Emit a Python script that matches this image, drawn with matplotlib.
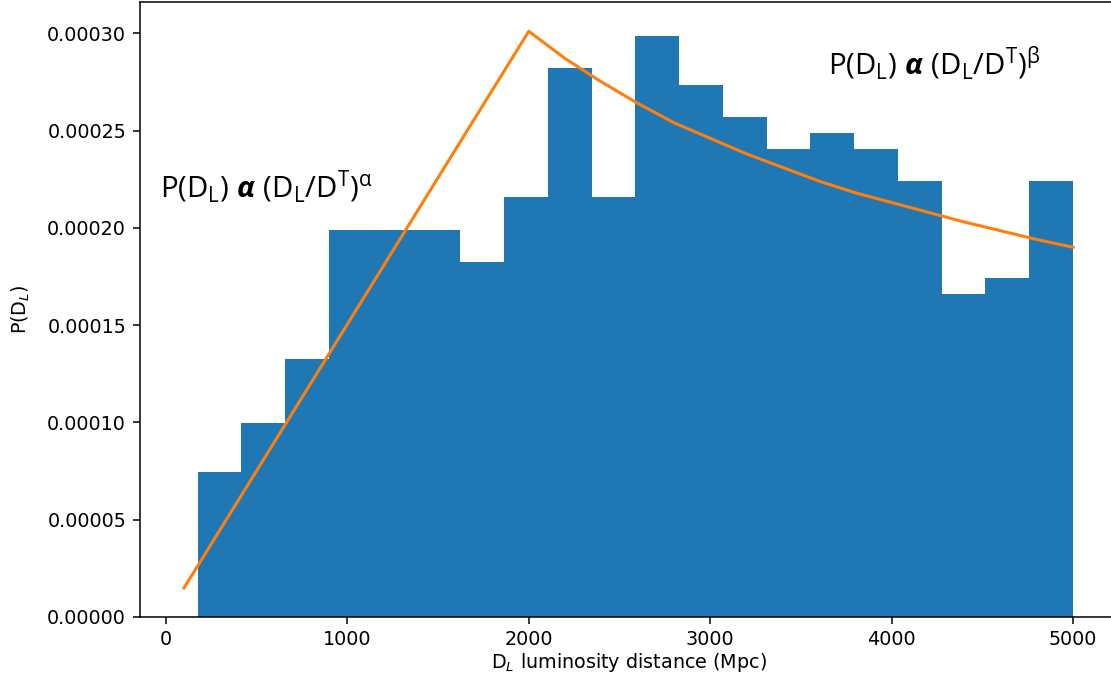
import numpy as np
import matplotlib
matplotlib.use("Agg")
import matplotlib.pyplot as plt

# histogram (density) values
bin_edges = [175, 416, 658, 899, 1140, 1381, 1622, 1864, 2105, 2346, 2588,
             2829, 3070, 3311, 3552, 3794, 4035, 4276, 4517, 4759, 5000]
densities = [0.0000746, 0.0000995, 0.0001327, 0.0001990, 0.0001990, 0.0001990,
             0.0001824, 0.0002156, 0.0002819, 0.0002156, 0.0002985, 0.0002736,
             0.0002570, 0.0002404, 0.0002487, 0.0002404, 0.0002238, 0.0001658,
             0.0001741, 0.0002238]

# broken power-law model curve
model_x = [100, 2000, 2200, 2400, 2600, 2800, 3000, 3200, 3400, 3600, 3800,
           4000, 4200, 4400, 4600, 4800, 5000]
model_y = [0.0000149, 0.000301, 0.000287, 0.000275, 0.000264, 0.000254,
           0.000246, 0.000238, 0.000231, 0.000224, 0.000218, 0.000213,
           0.000208, 0.000203, 0.0001985, 0.000194, 0.000190]

plt.rcParams['mathtext.fontset'] = 'dejavusans'
plt.rcParams['mathtext.rm'] = 'Open Sans'
plt.rcParams['mathtext.it'] = 'Open Sans:italic'
plt.rcParams['mathtext.bf'] = 'Open Sans:bold'
plt.rcParams['mathtext.bfit'] = 'Open Sans:bold:italic'

DPI = 138
fig = plt.figure(figsize=(1111 / DPI, 686 / DPI), dpi=DPI)
ax = fig.add_axes([0.1256, 0.1006, 0.8803, 0.8965])

edges = np.array(bin_edges)
ax.bar(edges[:-1], densities, width=np.diff(edges), align='edge',
       color='#1f77b4', linewidth=0)
ax.plot(model_x, model_y, color='#ff7f0e', linewidth=1.6)
ax.spines['right'].set_visible(False)

ax.set_xlabel('D$_L$ luminosity distance (Mpc)', labelpad=0.8)
ax.set_ylabel('P(D$_L$)', labelpad=8)

txt_a = r'$\mathrm{P(D_L)}\ \mathbfit{\alpha}\ \mathrm{(D_L/D^T)^{α}}$'
txt_b = r'$\mathrm{P(D_L)}\ \mathbfit{\alpha}\ \mathrm{(D_L/D^T)^{β}}$'
fig.text(160 / 1111, 1 - 198 / 686, txt_a, fontsize=15.3, math_fontfamily='custom',
         ha='left', va='baseline')
fig.text(828 / 1111, 1 - 75 / 686, txt_b, fontsize=15.3, math_fontfamily='custom',
         ha='left', va='baseline')

fig.savefig('out.png', dpi=DPI)
